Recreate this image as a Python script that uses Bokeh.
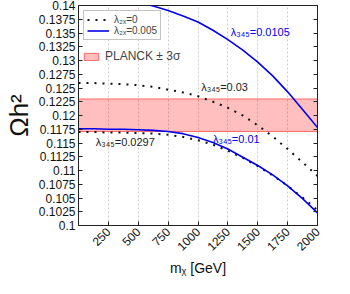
import math
from bokeh.plotting import figure
from bokeh.models import (Range1d, FixedTicker, LinearAxis, Legend, LegendItem,
                          ColumnDataSource, CustomJSTickFormatter)
from bokeh.core.properties import value
from bokeh.embed import file_html
from bokeh.resources import INLINE

# ---------------- data ----------------
m_chi = [0, 125, 250, 375, 500, 625, 750, 875, 1000, 1125, 1250, 1375, 1500,
         1625, 1750, 1875, 2000]

# lambda_2x = 0.005 (blue solid)
m_hi = [500, 625, 750, 875, 1000, 1125, 1250, 1375, 1500, 1625, 1750, 1875, 2000]
omega_l0105 = [0.1406, 0.1399, 0.1391, 0.1381, 0.1370, 0.1355, 0.1338, 0.1319,
               0.1297, 0.1272, 0.1243, 0.1211, 0.1178]
omega_l001 = [0.1176, 0.1176, 0.1175, 0.1175, 0.1174, 0.1173, 0.1171, 0.1167,
              0.1160, 0.1151, 0.1139, 0.1124, 0.1109, 0.1092, 0.1072, 0.1049, 0.1023]

# lambda_2x = 0 (black dotted)
omega_l003 = [0.1259, 0.1259, 0.1258, 0.1257, 0.1255, 0.1252, 0.1247, 0.1242,
              0.1235, 0.1225, 0.1214, 0.1200, 0.1182, 0.1162, 0.1139, 0.1115, 0.1090]
omega_l00297 = [0.1170, 0.1170, 0.1169, 0.1169, 0.1168, 0.1167, 0.1165, 0.1161,
                0.1155, 0.1147, 0.1136, 0.1123, 0.1108, 0.1091, 0.1072, 0.1051, 0.1028]

# PLANCK +- 3 sigma band
planck_low = 0.1171
planck_high = 0.1230

x_ticks = [250, 500, 750, 1000, 1250, 1500, 1750, 2000]
y_ticks = [0.1, 0.1025, 0.105, 0.1075, 0.11, 0.1125, 0.115, 0.1175, 0.12,
           0.1225, 0.125, 0.1275, 0.13, 0.1325, 0.135, 0.1375, 0.14]
y_tick_labels = ["0.1", "0.1025", "0.105", "0.1075", "0.11", "0.1125", "0.115",
                 "0.1175", "0.12", "0.1225", "0.125", "0.1275", "0.13", "0.1325",
                 "0.135", "0.1375", "0.14"]

label_text = ["λ₃₄₅=0.0105", "λ₃₄₅=0.03", "λ₃₄₅=0.01", "λ₃₄₅=0.0297"]
label_x = [1275, 1027, 1125, 145]
label_y = [0.1351, 0.1251, 0.1157, 0.1151]
label_color = ["#0000ee", "#222222", "#0000ee", "#222222"]

FONT = "Liberation Sans"
BLUE = "#0000ee"

p = figure(width=334, height=278, output_backend="svg", toolbar_location=None,
           x_range=Range1d(0, 2000), y_range=Range1d(0.1, 0.14),
           min_border_left=75, min_border_right=17, min_border_top=5,
           min_border_bottom=50)
p.outline_line_color = "#222222"
p.outline_line_width = 1

# band
band = p.quad(left=[m_chi[0]], right=[m_chi[-1]], bottom=[planck_low], top=[planck_high],
              fill_color="#ff0000", fill_alpha=0.25, line_color="#ff6666",
              line_width=1)

# curves
r_dot = p.line(m_chi, omega_l003, line_color="#111111", line_width=2, line_dash="2 6")
p.line(m_chi, omega_l00297, line_color="#111111", line_width=2, line_dash="2 6")
r_blue = p.line(m_hi, omega_l0105, line_color=BLUE, line_width=1.6)
p.line(m_chi, omega_l001, line_color=BLUE, line_width=1.6)

src = ColumnDataSource(dict(x=label_x, y=label_y, t=label_text, c=label_color))
p.text(x="x", y="y", text="t", text_color="c", source=src,
       text_font=value(FONT), text_font_size="11px", text_baseline="middle",
       text_align="left")

# axes
p.xaxis.ticker = FixedTicker(ticks=x_ticks)
p.yaxis.ticker = FixedTicker(ticks=y_ticks)
p.yaxis.major_label_overrides = {t: s for t, s in zip(y_ticks, y_tick_labels)}
for ax in (p.xaxis[0], p.yaxis[0]):
    ax.major_tick_in = 4
    ax.major_tick_out = 0
    ax.minor_tick_in = 0
    ax.minor_tick_out = 0
    ax.axis_line_color = "#222222"
    ax.major_tick_line_color = "#222222"
    ax.major_label_text_font = FONT
    ax.major_label_text_font_size = "12px"
    ax.major_label_text_color = "#111111"
    ax.axis_label_text_font = FONT
    ax.axis_label_text_font_style = "normal"
    ax.axis_label_text_color = "#111111"
p.xaxis.major_label_orientation = math.pi / 4
p.xaxis.major_label_standoff = 4
p.yaxis.major_label_standoff = 3
p.xaxis.axis_label = "mᵪ [GeV]"
p.xaxis.axis_label_text_font_size = "14px"
p.xaxis.axis_label_standoff = 2
p.yaxis.axis_label = "Ωh²"
p.yaxis.axis_label_text_font_size = "26px"
p.yaxis.axis_label_standoff = 2

right = LinearAxis(ticker=FixedTicker(ticks=y_ticks), major_tick_in=4,
                   major_tick_out=0, minor_tick_in=0, minor_tick_out=0,
                   formatter=CustomJSTickFormatter(code="return ''"),
                   axis_line_color="#222222", major_tick_line_color="#222222")
p.add_layout(right, "right")

p.ygrid.grid_line_color = None
p.xgrid.grid_line_color = "#cccccc"
p.xgrid.grid_line_dash = "2 2"

# legends
leg = Legend(items=[LegendItem(label="λ₂ₓ=0", renderers=[r_dot]),
                    LegendItem(label="λ₂ₓ=0.005", renderers=[r_blue])],
             location="top_left", margin=5, padding=3, spacing=0,
             label_height=11, glyph_height=11, glyph_width=22,
             label_text_font=FONT, label_text_font_size="10px",
             border_line_color="#888888", background_fill_alpha=1.0)
leg2 = Legend(items=[LegendItem(label="PLANCK ± 3σ", renderers=[band])],
              location=(4, 162), padding=2, spacing=0, label_height=14,
              glyph_height=9, glyph_width=18,
              label_text_font=FONT, label_text_font_size="12px",
              border_line_color=None, background_fill_alpha=0.0)
p.add_layout(leg)
p.add_layout(leg2)

open("out.html", "w").write(file_html(p, INLINE))
